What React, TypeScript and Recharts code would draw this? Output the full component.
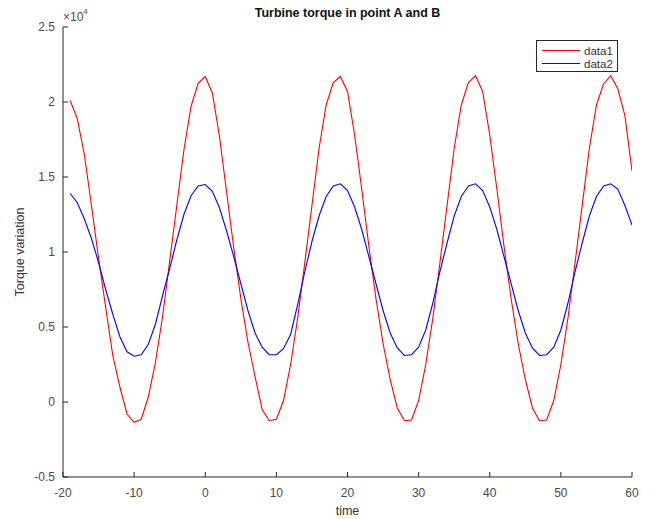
import { LineChart, Line, XAxis, YAxis } from "recharts";

// sample times (s)
const time = [
  -19, -18, -17, -16, -15, -14, -13, -12, -11, -10, -9, -8, -7, -6, -5, -4, -3, -2, -1, 0,
  1, 2, 3, 4, 5, 6, 7, 8, 9, 10, 11, 12, 13, 14, 15, 16, 17, 18, 19, 20,
  21, 22, 23, 24, 25, 26, 27, 28, 29, 30, 31, 32, 33, 34, 35, 36, 37, 38, 39, 40,
  41, 42, 43, 44, 45, 46, 47, 48, 49, 50, 51, 52, 53, 54, 55, 56, 57, 58, 59, 60,
];

// torque at point A
const data1 = [
  20100, 18900, 16500, 13100, 9600, 6300, 3100, 1000, -800, -1350, -1150, 350, 2650, 5700, 9400, 13100, 16800, 19700, 21250, 21700,
  20600, 17700, 14000, 10300, 6900, 4000, 1700, -500, -1250, -1150, 100, 2500, 5600, 9300, 13100, 16900, 19800, 21300, 21700, 20700,
  17800, 14200, 10400, 6900, 3900, 1500, -400, -1250, -1200, 100, 2500, 5600, 9300, 13100, 16900, 19800, 21300, 21750, 20700, 17800,
  14200, 10400, 6900, 3900, 1500, -400, -1250, -1200, 100, 2500, 5600, 9300, 13100, 16900, 19800, 21200, 21750, 20900, 19100, 15400,
];

// torque at point B
const data2 = [
  13900, 13300, 12200, 10900, 9300, 7500, 5850, 4350, 3350, 3050, 3150, 3850, 5200, 7100, 8900, 10800, 12500, 13750, 14400, 14500,
  14050, 12950, 11400, 9700, 7900, 6100, 4600, 3650, 3150, 3150, 3550, 4500, 6500, 8700, 10700, 12400, 13700, 14400, 14550, 14100,
  13000, 11500, 9700, 7900, 6100, 4600, 3600, 3100, 3150, 3650, 4800, 6600, 8700, 10600, 12400, 13700, 14400, 14550, 14100, 13000,
  11500, 9700, 7900, 6100, 4600, 3600, 3100, 3150, 3650, 4800, 6600, 8700, 10600, 12400, 13700, 14400, 14550, 14200, 13100, 11800,
];

const xTicks = [-20, -10, 0, 10, 20, 30, 40, 50, 60];
const yTicks = [-5000, 0, 5000, 10000, 15000, 20000, 25000];

const rows = time.map((t, i) => ({ time: t, data1: data1[i], data2: data2[i] }));

const AXIS = "#262626";
const LABEL = "#4a4a4a";
const FONT = '"Liberation Sans", Arial, Helvetica, sans-serif';

// MATLAB style: ticks point into the plot
function XTick({ x, y, payload }: any) {
  return (
    <g>
      <line x1={x} x2={x} y1={y - 11} y2={y - 16} stroke={AXIS} strokeWidth={1} />
      <text x={x} y={y} dy="0.71em" textAnchor="middle" fill={LABEL} fontSize={12} fontFamily={FONT}>
        {payload.value}
      </text>
    </g>
  );
}

function YTick({ x, y, payload }: any) {
  return (
    <g>
      <line x1={x + 8} x2={x + 13} y1={y} y2={y} stroke={AXIS} strokeWidth={1} />
      <text x={x} y={y} dy="0.355em" textAnchor="end" fill={LABEL} fontSize={12} fontFamily={FONT}>
        {payload.value / 10000}
      </text>
    </g>
  );
}

function LegendBox() {
  const item = (color: string, name: string) => (
    <div style={{ display: "flex", alignItems: "center", height: 13 }}>
      <div style={{ width: 38, height: 0, borderTop: `1px solid ${color}`, marginLeft: 5, marginRight: 4 }} />
      <span>{name}</span>
    </div>
  );
  return (
    <div
      style={{
        position: "absolute",
        left: 536,
        top: 40,
        width: 82,
        height: 32,
        border: "1px solid #262626",
        background: "#fff",
        fontFamily: FONT,
        fontSize: 11.5,
        color: "#333",
        paddingTop: 3,
        boxSizing: "border-box",
      }}
    >
      {item("#ff0000", "data1")}
      {item("#0000ff", "data2")}
    </div>
  );
}

export default function App() {
  return (
    <div style={{ position: "absolute", left: 0, top: 0, width: 661, height: 519, background: "#fff", fontFamily: FONT }}>
      <LineChart width={661} height={519} data={rows} margin={{ top: 27, right: 29, bottom: 0, left: 0 }}>
        <XAxis
          dataKey="time"
          type="number"
          domain={[-20, 60]}
          ticks={xTicks}
          height={42}
          stroke={AXIS}
          tickLine={false}
          tickSize={0}
          tickMargin={11}
          tick={<XTick />}
          allowDataOverflow
        />
        <YAxis
          type="number"
          domain={[-5000, 25000]}
          ticks={yTicks}
          width={63}
          stroke={AXIS}
          tickLine={false}
          tickSize={0}
          tickMargin={8}
          tick={<YTick />}
          allowDataOverflow
        />
        <Line type="linear" dataKey="data1" stroke="#ff0000" strokeWidth={1.1} dot={false} isAnimationActive={false} />
        <Line type="linear" dataKey="data2" stroke="#0000ff" strokeWidth={1.1} dot={false} isAnimationActive={false} />
      </LineChart>

      <div
        style={{
          position: "absolute",
          left: 63,
          width: 569,
          top: 6,
          textAlign: "center",
          fontWeight: "bold",
          fontSize: 12.5,
          color: "#111",
        }}
      >
        Turbine torque in point A and B
      </div>
      <div style={{ position: "absolute", left: 63, top: 10, fontSize: 12, color: LABEL }}>
        ×10<sup style={{ fontSize: 8, verticalAlign: "top", position: "relative", top: -3 }}>4</sup>
      </div>
      <div style={{ position: "absolute", left: 63, width: 569, top: 504, textAlign: "center", fontSize: 12.5, color: "#333" }}>
        time
      </div>
      <div
        style={{
          position: "absolute",
          left: 20,
          top: 252,
          transform: "translate(-50%, -50%) rotate(-90deg)",
          whiteSpace: "nowrap",
          fontSize: 12.5,
          color: "#333",
        }}
      >
        Torque variation
      </div>
      <LegendBox />
    </div>
  );
}
